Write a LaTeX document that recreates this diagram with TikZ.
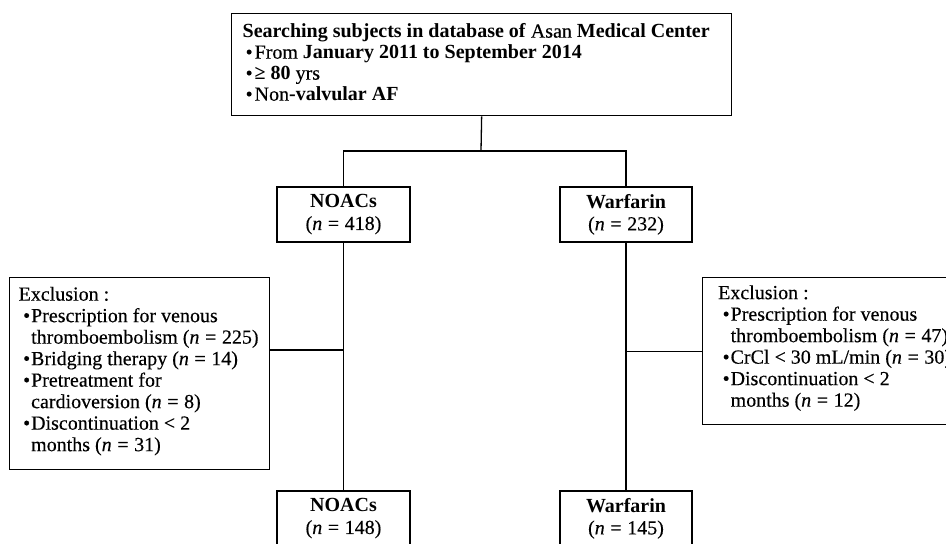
\documentclass[tikz,border=0pt]{standalone}
\usepackage{fontspec}
\setmainfont{Liberation Serif}[UprightFeatures={FakeBold=0.3}, ItalicFeatures={FakeBold=0.3}]
\usetikzlibrary{positioning}

% bullet lines, their continuation and the counts
\newcommand{\itm}{\hspace*{4.5pt}\makebox[8pt][l]{•}}
\newcommand{\cnt}{\hspace*{12.5pt}}
\newcommand{\topitm}{\hspace*{14pt}\makebox[9pt][l]{•}}
\newcommand{\ncount}[1]{(\textit{n}\hspace{0.28em}=\hspace{0.28em}#1)}

\begin{document}
\begin{tikzpicture}[x=1pt, y=-1pt, line width=1.3pt,
  box/.style={draw, inner sep=0pt, font=\fontsize{20}{21.5}\selectfont},
  grp/.style={box, minimum width=133pt, minimum height=55pt, align=center,
    font=\fontsize{20}{22}\selectfont}]
  \useasboundingbox (0,0) rectangle (946,544);
  \clip (0,0) rectangle (946,544);

  \node [box, anchor=north west] (search) at (231,13)
    {\begin{minipage}[c][102pt][t]{500pt}\fontsize{20}{21}\selectfont
      \hspace*{11pt}\rule{0pt}{24pt}\textbf{Searching subjects in database of} Asan \textbf{Medical Center}\\
      \topitm From \textbf{January 2011 to September 2014}\\
      \topitm\textbf{≥ 80} yrs\\
      \topitm Non\textbf{-valvular AF}
    \end{minipage}};

  \node [grp] (noacs) at (343.5,214.5) {\textbf{NOACs}\\\ncount{418}};
  \node [grp, minimum width=132pt] (warf) at (626,214.5) {\textbf{Warfarin}\\\ncount{232}};

  \node [box, anchor=north west] (exnoac) at (9,277)
    {\begin{minipage}[c][192pt][t]{260pt}\fontsize{20}{21.5}\selectfont
      \hspace*{9pt}\rule{0pt}{23pt}Exclusion :\\
      \hspace*{9pt}\itm Prescription for venous\\
      \hspace*{9pt}\cnt thromboembolism \ncount{225}\\
      \hspace*{9pt}\itm Bridging therapy \ncount{14}\\
      \hspace*{9pt}\itm Pretreatment for\\
      \hspace*{9pt}\cnt cardioversion \ncount{8}\\
      \hspace*{9pt}\itm Discontinuation < 2\\
      \hspace*{9pt}\cnt months \ncount{31}
    \end{minipage}};

  \node [box, anchor=north west] (exwarf) at (702,277)
    {\begin{minipage}[c][147pt][t]{290pt}\fontsize{20}{21.5}\selectfont
      \hspace*{15.5pt}\rule{0pt}{21.5pt}Exclusion :\\
      \hspace*{15.5pt}\itm Prescription for venous\\
      \hspace*{15.5pt}\cnt thromboembolism \ncount{47}\\
      \hspace*{15.5pt}\itm CrCl < 30 mL/min \ncount{30}\\
      \hspace*{15.5pt}\itm Discontinuation < 2\\
      \hspace*{15.5pt}\cnt months \ncount{12}
    \end{minipage}};

  \node [grp] (noacsend) at (343.5,518.5) {\textbf{NOACs}\\\ncount{148}};
  \node [grp, minimum width=132pt] (warfend) at (626,518.5) {\textbf{Warfarin}\\\ncount{145}};

  % connectors
  \coordinate (split) at (481,151);
  \coordinate (jl) at (343.5,350);
  \draw (search.south) -- (split);
  \draw (noacs.north) |- (split) -| (warf.north);
  \draw (noacs.south) -- (noacsend.north);
  \draw (warf.south) -- (warfend.north);
  \draw (exnoac.east |- jl) -- (jl);
  \draw (exwarf.west) -- (exwarf.west -| warf.south);
\end{tikzpicture}
\end{document}
